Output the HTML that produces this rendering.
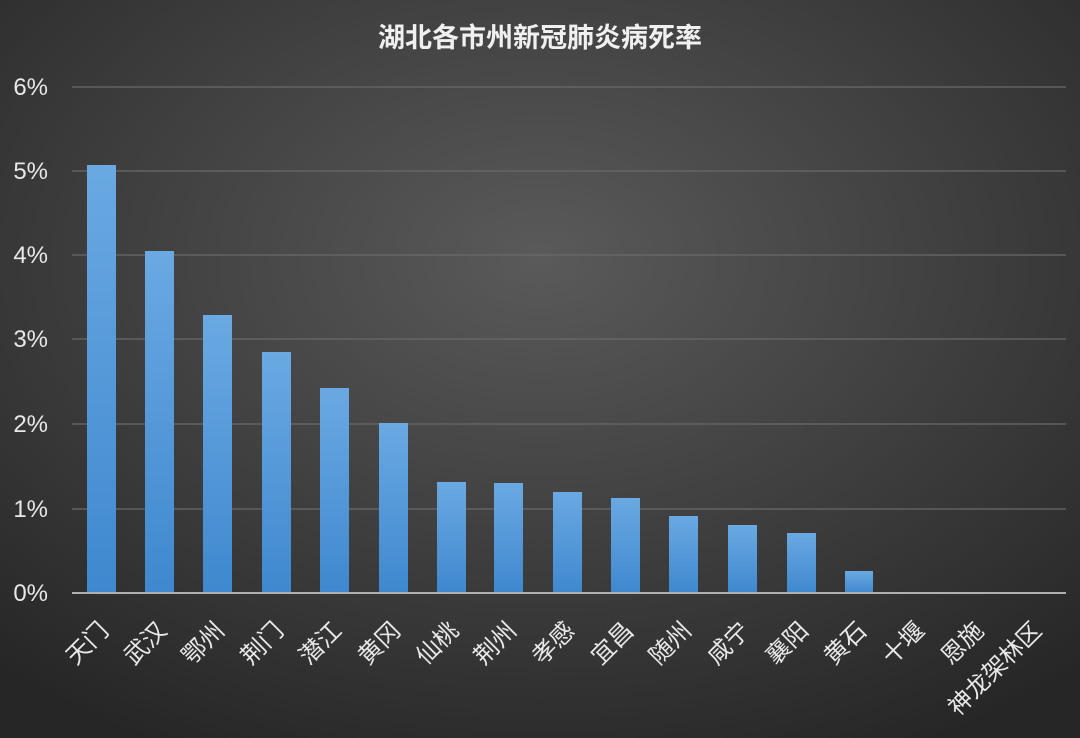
<!DOCTYPE html>
<html><head><meta charset="utf-8"><style>
html,body{margin:0;padding:0;width:1080px;height:738px;overflow:hidden;background:#333}
</style></head><body>
<svg width="1080" height="738" xmlns="http://www.w3.org/2000/svg" font-family="Liberation Sans, Noto Sans CJK SC, sans-serif">
<defs>
<radialGradient id="bg" cx="50%" cy="35%" r="75%">
<stop offset="0" stop-color="#5a5a5a"/><stop offset="1" stop-color="#262626"/>
</radialGradient>
<linearGradient id="bar" x1="0" y1="0" x2="0" y2="1">
<stop offset="0" stop-color="#6aa9e2"/><stop offset="1" stop-color="#3f88cf"/>
</linearGradient>
</defs>
<rect width="1080" height="738" fill="url(#bg)"/>
<text x="540" y="47" text-anchor="middle" fill="#f0f0f0" font-size="27" font-weight="bold" font-family="Noto Sans CJK SC, sans-serif">湖北各市州新冠肺炎病死率</text>
<g stroke="#6a6a6a" stroke-width="1.2">
<line x1="72" x2="1066" y1="87" y2="87"/><line x1="72" x2="1066" y1="171" y2="171"/>
<line x1="72" x2="1066" y1="255" y2="255"/><line x1="72" x2="1066" y1="339" y2="339"/>
<line x1="72" x2="1066" y1="424" y2="424"/><line x1="72" x2="1066" y1="509" y2="509"/>
</g>
<g fill="#e8e8e8" font-size="24" text-anchor="end">
<text x="48" y="95">6%</text><text x="48" y="179">5%</text><text x="48" y="263">4%</text>
<text x="48" y="347">3%</text><text x="48" y="432">2%</text><text x="48" y="517">1%</text><text x="48" y="601">0%</text>
</g>
<g fill="url(#bar)">
<rect x="87" y="165" width="29" height="428"/>
<rect x="145" y="251" width="29" height="342"/>
<rect x="203" y="315" width="29" height="278"/>
<rect x="262" y="352" width="29" height="241"/>
<rect x="320" y="388" width="29" height="205"/>
<rect x="379" y="423" width="29" height="170"/>
<rect x="437" y="482" width="29" height="111"/>
<rect x="494" y="483" width="29" height="110"/>
<rect x="553" y="492" width="29" height="101"/>
<rect x="611" y="498" width="29" height="95"/>
<rect x="669" y="516" width="29" height="77"/>
<rect x="728" y="525" width="29" height="68"/>
<rect x="787" y="533" width="29" height="60"/>
<rect x="845" y="571" width="28" height="22"/>
</g>
<line x1="72" x2="1066" y1="593" y2="593" stroke="#b0b0b0" stroke-width="2"/>
<g fill="#e8e8e8" font-size="24" text-anchor="end" font-family="Noto Sans CJK SC, sans-serif">
<text transform="translate(110,632) rotate(-45)">天门</text>
<text transform="translate(168,632) rotate(-45)">武汉</text>
<text transform="translate(226,632) rotate(-45)">鄂州</text>
<text transform="translate(285,632) rotate(-45)">荆门</text>
<text transform="translate(343,632) rotate(-45)">潜江</text>
<text transform="translate(402,632) rotate(-45)">黄冈</text>
<text transform="translate(460,632) rotate(-45)">仙桃</text>
<text transform="translate(518,632) rotate(-45)">荆州</text>
<text transform="translate(576,632) rotate(-45)">孝感</text>
<text transform="translate(635,632) rotate(-45)">宜昌</text>
<text transform="translate(693,632) rotate(-45)">随州</text>
<text transform="translate(751,632) rotate(-45)">咸宁</text>
<text transform="translate(810,632) rotate(-45)">襄阳</text>
<text transform="translate(868,632) rotate(-45)">黄石</text>
<text transform="translate(926,632) rotate(-45)">十堰</text>
<text transform="translate(985,632) rotate(-45)">恩施</text>
<text transform="translate(1043,632) rotate(-45)">神龙架林区</text>
</g>
</svg>
</body></html>
